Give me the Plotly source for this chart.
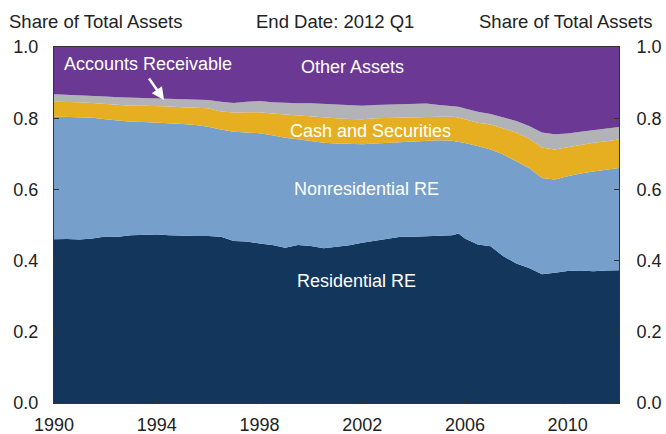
import plotly.graph_objects as go

# Time (decimal year)
years = [1990.0, 1990.5, 1991.0, 1991.5, 1992.0, 1992.5, 1993.0, 1993.5, 1994.0, 1994.5,
         1995.0, 1995.5, 1996.0, 1996.5, 1997.0, 1997.5, 1998.0, 1998.5, 1999.0, 1999.5,
         2000.0, 2000.5, 2001.0, 2001.5, 2002.0, 2002.5, 2003.0, 2003.5, 2004.0, 2004.5,
         2005.0, 2005.5, 2005.75, 2006.0, 2006.5, 2007.0, 2007.5, 2008.0, 2008.5, 2009.0,
         2009.5, 2010.0, 2010.5, 2011.0, 2011.5, 2012.0]

residential_re = [0.460, 0.461, 0.459, 0.462, 0.468, 0.467, 0.471, 0.473, 0.473, 0.471,
                  0.469, 0.469, 0.469, 0.467, 0.455, 0.454, 0.448, 0.444, 0.436, 0.444,
                  0.441, 0.435, 0.439, 0.443, 0.450, 0.455, 0.460, 0.467, 0.467, 0.468,
                  0.469, 0.471, 0.476, 0.462, 0.445, 0.440, 0.412, 0.392, 0.379, 0.362,
                  0.366, 0.371, 0.372, 0.370, 0.372, 0.373]

nonresidential_re = [0.345, 0.343, 0.344, 0.339, 0.329, 0.326, 0.319, 0.316, 0.315, 0.315,
                     0.315, 0.312, 0.307, 0.301, 0.307, 0.306, 0.310, 0.308, 0.309, 0.297,
                     0.295, 0.296, 0.290, 0.285, 0.277, 0.274, 0.271, 0.267, 0.268, 0.270,
                     0.269, 0.266, 0.258, 0.268, 0.277, 0.272, 0.286, 0.288, 0.281, 0.270,
                     0.262, 0.266, 0.273, 0.280, 0.283, 0.287]

cash_securities = [0.041, 0.042, 0.042, 0.042, 0.043, 0.044, 0.045, 0.046, 0.047, 0.047,
                   0.047, 0.049, 0.052, 0.051, 0.054, 0.057, 0.059, 0.061, 0.065, 0.068,
                   0.069, 0.071, 0.071, 0.070, 0.070, 0.071, 0.070, 0.069, 0.069, 0.066,
                   0.066, 0.067, 0.068, 0.067, 0.065, 0.070, 0.074, 0.080, 0.082, 0.086,
                   0.084, 0.082, 0.081, 0.081, 0.080, 0.080]

accounts_receivable = [0.021, 0.020, 0.020, 0.020, 0.021, 0.022, 0.023, 0.022, 0.020, 0.022,
                       0.024, 0.024, 0.023, 0.027, 0.027, 0.029, 0.031, 0.032, 0.033, 0.033,
                       0.037, 0.038, 0.037, 0.037, 0.038, 0.037, 0.037, 0.037, 0.037, 0.037,
                       0.033, 0.031, 0.030, 0.030, 0.031, 0.030, 0.031, 0.032, 0.036, 0.042,
                       0.043, 0.038, 0.036, 0.035, 0.035, 0.035]

other_assets = [0.133, 0.134, 0.135, 0.137, 0.139, 0.141, 0.142, 0.143, 0.145, 0.145,
                0.145, 0.146, 0.149, 0.154, 0.157, 0.154, 0.152, 0.155, 0.157, 0.158,
                0.158, 0.160, 0.163, 0.165, 0.165, 0.163, 0.162, 0.160, 0.159, 0.159,
                0.163, 0.165, 0.168, 0.173, 0.182, 0.188, 0.197, 0.208, 0.222, 0.240,
                0.245, 0.243, 0.238, 0.234, 0.230, 0.225]

x_tick_vals = [1990, 1994, 1998, 2002, 2006, 2010]
y_tick_vals = [0.0, 0.2, 0.4, 0.6, 0.8, 1.0]

series = [
    ("Residential RE", residential_re, "#12365c"),
    ("Nonresidential RE", nonresidential_re, "#769fcb"),
    ("Cash and Securities", cash_securities, "#e6af21"),
    ("Accounts Receivable", accounts_receivable, "#b1b3b6"),
    ("Other Assets", other_assets, "#6b3893"),
]

FONT = "Liberation Sans, Arial, Helvetica, sans-serif"
TXT = "#222222"

fig = go.Figure()
for name, vals, col in series:
    fig.add_trace(go.Scatter(
        x=years, y=vals, name=name, stackgroup="one", mode="lines",
        line=dict(width=0, color=col), fillcolor=col, hoverinfo="skip",
    ))
# invisible trace to activate the right axis
fig.add_trace(go.Scatter(x=[years[0]], y=[0], yaxis="y2", mode="markers",
                         marker=dict(opacity=0), showlegend=False, hoverinfo="skip"))

axis_common = dict(showline=True, linecolor="#333333", linewidth=1, ticks="inside",
                   ticklen=5, tickcolor="#333333", showgrid=False, zeroline=False,
                   automargin=False,
                   tickfont=dict(family=FONT, size=18, color=TXT))

fig.update_layout(
    width=666, height=434,
    margin=dict(l=54, r=47, t=47, b=31),
    paper_bgcolor="white", plot_bgcolor="white",
    showlegend=False,
    xaxis=dict(range=[1990, 2012], tickvals=x_tick_vals, mirror=True,
               ticklabelstandoff=5, **axis_common),
    yaxis=dict(range=[0, 1], tickvals=y_tick_vals, tickformat=".1f", mirror=True,
               ticklabelstandoff=11, **axis_common),
    yaxis2=dict(range=[0, 1], tickvals=y_tick_vals, tickformat=".1f", overlaying="y",
                side="right", ticklabelstandoff=13, **axis_common),
)

def title(text, x, anchor):
    fig.add_annotation(text=text, xref="paper", yref="paper", x=x, y=1.073,
                       xanchor=anchor, yanchor="middle", showarrow=False,
                       font=dict(family=FONT, size=18.5, color=TXT))

title("Share of Total Assets", -0.083, "left")
title("End Date: 2012 Q1", 0.497, "center")
title("Share of Total Assets", 1.062, "right")

def label(text, px, py, anchor="center"):
    fig.add_annotation(text=text, xref="paper", yref="paper",
                       x=(px - 54) / 565, y=(403 - py) / 356,
                       xanchor=anchor, yanchor="middle", showarrow=False,
                       font=dict(family=FONT, size=18, color="white"))

label("Accounts Receivable", 62, 64, "left")
label("Other Assets", 352, 67)
label("Cash and Securities", 370, 131)
label("Nonresidential RE", 366, 189)
label("Residential RE", 356, 281)

# arrow for Accounts Receivable
fig.add_annotation(text="", xref="paper", yref="paper",
                   x=(164 - 54) / 565, y=(403 - 100) / 356,
                   ax=-16, ay=-23, showarrow=True, arrowhead=2, arrowsize=1,
                   arrowwidth=2.5, arrowcolor="white")

fig.write_html("out.html", config={"displayModeBar": False},
               post_script="document.body.style.margin='0';document.body.style.padding='0';")
